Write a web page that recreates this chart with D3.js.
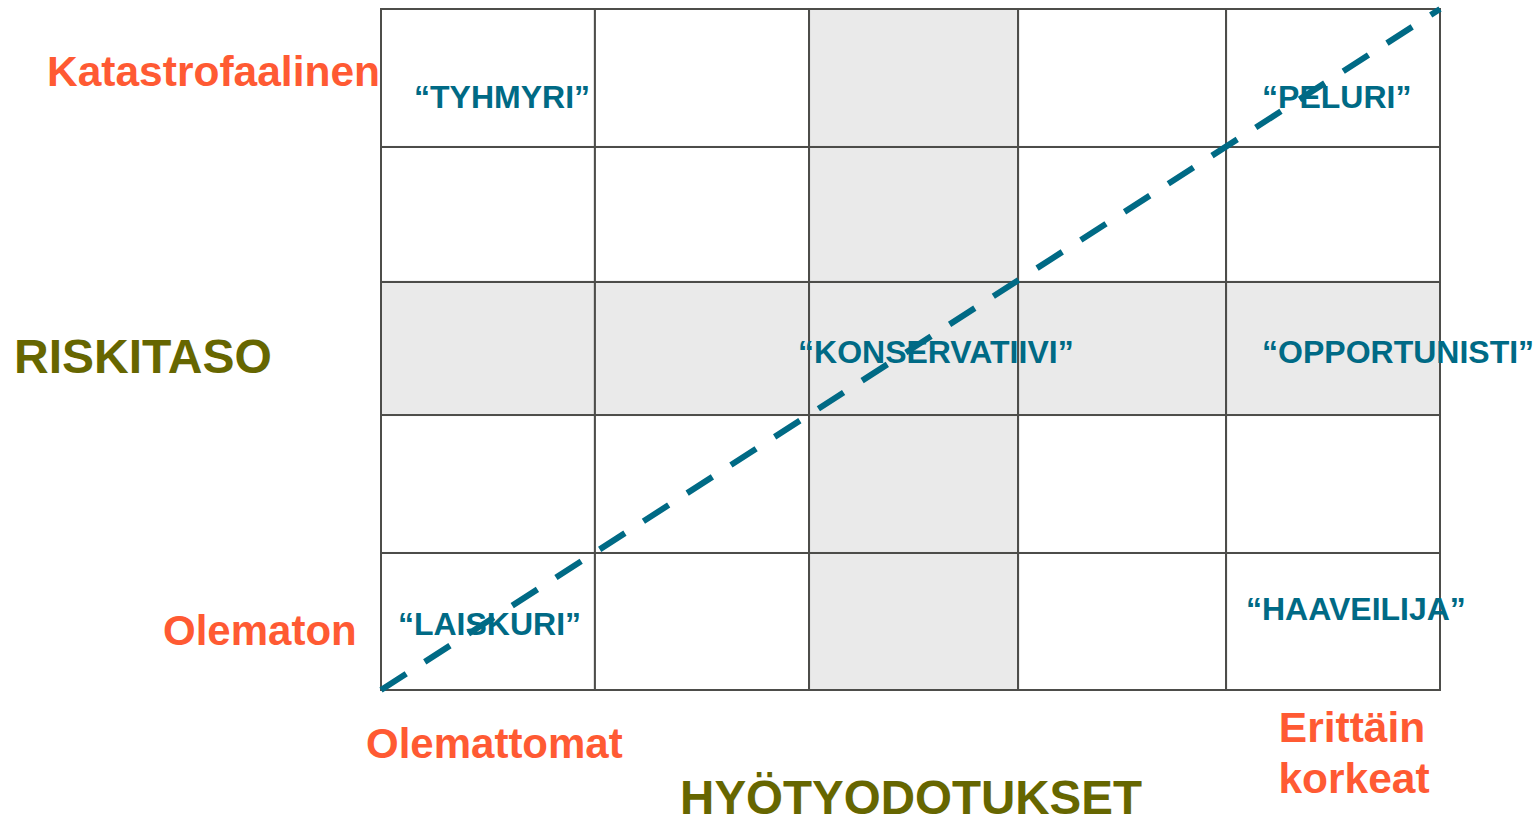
<!DOCTYPE html>
<html>
<head>
<meta charset="utf-8">
<script src="https://cdn.jsdelivr.net/npm/d3@7"></script>
<style>
  body { margin: 0; background: #fff; }
  text { font-family: "Liberation Sans", Arial, sans-serif; font-weight: bold; }
</style>
</head>
<body>
<script>
'use strict';

// grid: 5 benefit columns x 5 risk rows, row 0 = bottom
// cell edges in grid units (cells are not quite even)
const colEdges = [0, 1.01, 2.021, 3.008, 3.99, 5];
const rowEdges = [0, 1.006, 2.019, 2.996, 3.987, 5];
const shadedCol = 2;
const shadedRow = 2;

// profile labels placed in grid units (x from left, y from bottom, at text baseline)
const profileNames = ['“TYHMYRI”', '“PELURI”', '“KONSERVATIIVI”', '“OPPORTUNISTI”', '“LAISKURI”', '“HAAVEILIJA”'];
const profileX = [0.156, 4.16, 1.969, 4.16, 0.08, 4.084];
const profileY = [4.273, 4.273, 2.40, 2.40, 0.404, 0.514];

// diagonal trade-off line
const diagonal = [[0, 0], [5, 5]];

const orange = '#ff5a33';
const olive = '#666600';
const teal = '#006a85';

let svg = d3.select('body')
  .append('svg')
  .attr('width', 1539)
  .attr('height', 821);

let x = d3.scaleLinear().domain([0, 5]).range([381, 1440]);
let y = d3.scaleLinear().domain([0, 5]).range([690, 9]);

// cells
let cells = [];
for (let r = 0; r < 5; r++) {
  for (let c = 0; c < 5; c++) cells.push({ c: c, r: r });
}

svg.selectAll('.cell')
  .data(cells)
  .enter()
  .append('rect')
    .attr('x', d => x(colEdges[d.c]))
    .attr('y', d => y(rowEdges[d.r + 1]))
    .attr('width', d => x(colEdges[d.c + 1]) - x(colEdges[d.c]))
    .attr('height', d => y(rowEdges[d.r]) - y(rowEdges[d.r + 1]))
    .attr('fill', d => (d.c === shadedCol || d.r === shadedRow) ? '#eaeaea' : '#fff')
    .attr('stroke', '#4d4d4a')
    .attr('stroke-width', 2);

// labels under the line
svg.selectAll('.profile')
  .data(profileNames)
  .enter()
  .append('text')
    .attr('x', (d, i) => x(profileX[i]))
    .attr('y', (d, i) => y(profileY[i]))
    .attr('fill', teal)
    .style('font-size', '32px')
    .text(d => d);

// dashed diagonal
svg.append('path')
  .attr('d', d3.line().x(d => x(d[0])).y(d => y(d[1]))(diagonal))
  .attr('fill', 'none')
  .attr('stroke', teal)
  .attr('stroke-width', 6)
  .attr('stroke-dasharray', '30,22');

// axis texts
function label(txt, px, py, size, color, anchor) {
  svg.append('text')
    .attr('x', px)
    .attr('y', py)
    .attr('fill', color)
    .attr('text-anchor', anchor || 'start')
    .style('font-size', size + 'px')
    .text(txt);
}

label('Katastrofaalinen', 47, 86, 42.5, orange);
label('Olematon', 163, 645, 42, orange);
label('RISKITASO', 14, 373, 48, olive);
label('Olemattomat', 366, 758, 42, orange);
label('Erittäin', 1352, 742, 42.5, orange, 'middle');
label('korkeat', 1354, 793, 42.5, orange, 'middle');
label('HYÖTYODOTUKSET', 911, 814, 47.5, olive, 'middle');
</script>
</body>
</html>
